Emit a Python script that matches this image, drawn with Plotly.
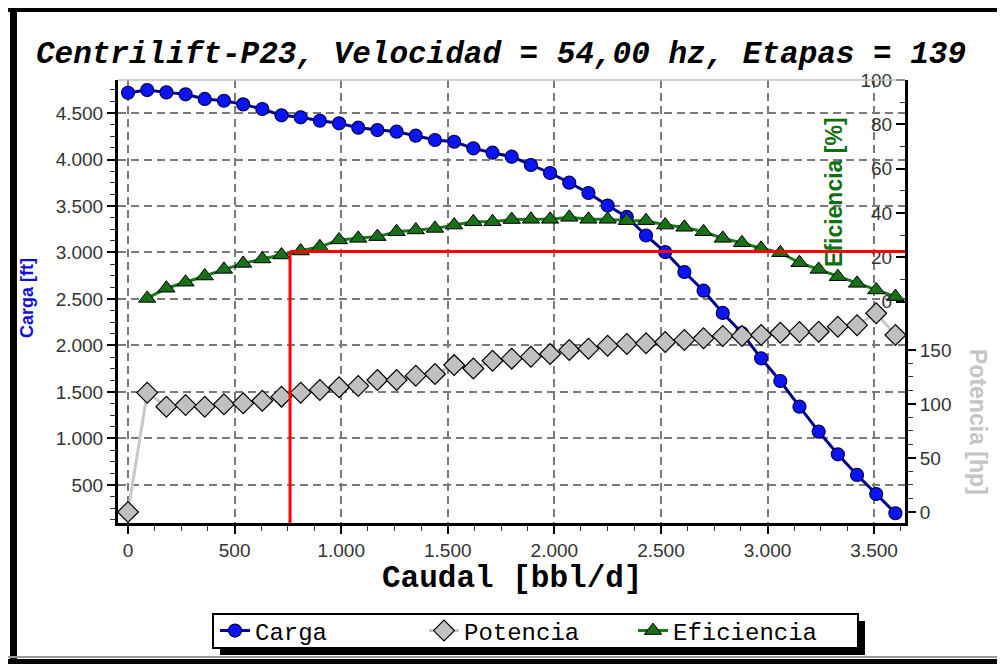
import plotly.graph_objects as go

# ---------------- data ----------------
caudal = [0, 90, 180, 270, 360, 450, 540, 630, 720, 810, 900, 990, 1080, 1170, 1260,
          1350, 1440, 1530, 1620, 1710, 1800, 1890, 1980, 2070, 2160, 2250, 2340, 2430,
          2520, 2610, 2700, 2790, 2880, 2970, 3060, 3150, 3240, 3330, 3420, 3510, 3600]

carga = [4718, 4747, 4722, 4701, 4651, 4632, 4593, 4543, 4475, 4454, 4417, 4389, 4342,
         4317, 4299, 4256, 4210, 4191, 4120, 4073, 4030, 3941, 3855, 3751, 3640, 3505,
         3382, 3183, 3005, 2790, 2589, 2350, 2134, 1862, 1618, 1342, 1073, 830, 608, 403, 196]

potencia = [0, 110.5, 97.5, 99, 97.5, 99.7, 100.6, 103, 106.8, 110.5, 113, 115.5, 116.7,
            122.2, 122.2, 126.2, 127.8, 136, 132.9, 140, 142, 143.8, 146.3, 150, 151.2,
            154, 155.6, 156.2, 157.4, 159.3, 160.8, 163, 163, 163.9, 166, 166.7, 166.9,
            171.6, 173, 184, 163.9]

caudal_ef = caudal[1:]
eficiencia = [1.4, 6.0, 8.7, 11.5, 14.5, 17.2, 19.2, 21.0, 22.8, 24.7, 27.8, 28.5, 29.3,
              31.5, 32.3, 33.0, 34.5, 36.0, 36.0, 37.0, 37.1, 37.1, 38.0, 37.1, 37.1, 36.5,
              36.5, 34.5, 33.5, 31.5, 28.5, 26.5, 24.0, 22.0, 17.5, 14.5, 11.2, 8.2, 5.2, 2.2]

# operating point (red guide lines)
op_caudal = 760
op_carga = 3010

x_ticks = [0, 500, 1000, 1500, 2000, 2500, 3000, 3500]
carga_ticks = [500, 1000, 1500, 2000, 2500, 3000, 3500, 4000, 4500]
ef_ticks = [0, 20, 40, 60, 80, 100]
ef_minor = [10, 30, 50, 70, 90]
pot_ticks = [0, 50, 100, 150]
pot_minor = [12.5, 25, 37.5, 62.5, 75, 87.5, 112.5, 125, 137.5]

X_RANGE = [-47, 3645]
Y_RANGE = [91, 4855]
EF_RANGE = [-100, 100]
POT_RANGE = [-10.2, 400]

# the page body has an 8px margin; figure is sized so it ends at the window edge
W, H = 997, 656
OFF = 8

TICKFONT = dict(family="Liberation Sans", size=19, color="#333333")
GRID = dict(showgrid=True, gridcolor="#7a7a7a", gridwidth=1.5, griddash="8px,5px")


def px_x(p):  # page pixel -> paper x
    return (p - 118) / 787


def px_y(p):  # page pixel -> paper y
    return (523 - p) / 443


fig = go.Figure()

fig.add_trace(go.Scatter(
    x=caudal, y=carga, name="Carga", mode="lines+markers", yaxis="y",
    line=dict(color="#00008c", width=3),
    marker=dict(symbol="circle", size=13, color="#0a14f5", line=dict(color="#000050", width=1.2)),
))
fig.add_trace(go.Scatter(
    x=caudal, y=potencia, name="Potencia", mode="lines+markers", yaxis="y2",
    line=dict(color="#c8c8c8", width=3),
    marker=dict(symbol="diamond", size=16, color="#c0c0c0", line=dict(color="#000000", width=1.2)),
))
fig.add_trace(go.Scatter(
    x=caudal_ef, y=eficiencia, name="Eficiencia", mode="lines+markers", yaxis="y3",
    line=dict(color="#1a7a1a", width=3),
    marker=dict(symbol="triangle-up", size=15, color="#187018", line=dict(color="#000000", width=1)),
))

fig.update_layout(
    width=W, height=H,
    margin=dict(l=118 - OFF, r=100, t=80 - OFF, b=141, autoexpand=False),
    paper_bgcolor="white", plot_bgcolor="white",
    separators=",.",
    showlegend=True,
    title=dict(
        text="Centrilift-P23, Velocidad = 54,00 hz, Etapas = 139",
        font=dict(family="Liberation Mono", size=31, color="#000000", weight="bold", style="italic"),
        x=(501 - OFF) / W, xref="container", xanchor="center",
        y=1 - (52 - OFF) / H, yref="container", yanchor="middle",
    ),
    xaxis=dict(
        range=X_RANGE, tickvals=x_ticks, tickformat=",d", tickfont=TICKFONT,
        showline=True, linecolor="black", linewidth=3,
        ticks="outside", ticklen=8, tickwidth=1.5, tickcolor="black",
        minor=dict(ticks="outside", ticklen=5, tickwidth=1, tickcolor="#333", dtick=125, showgrid=False),
        zeroline=False, automargin=False, **GRID,
    ),
    yaxis=dict(
        range=Y_RANGE, tickvals=carga_ticks, tickformat=",d", tickfont=TICKFONT,
        showline=True, linecolor="black", linewidth=3,
        ticks="outside", ticklen=8, tickwidth=1.5, tickcolor="black",
        minor=dict(ticks="outside", ticklen=5, tickwidth=1, tickcolor="#333", dtick=125, showgrid=False),
        zeroline=False, automargin=False, **GRID,
    ),
    yaxis2=dict(
        overlaying="y", side="right", anchor="x",
        range=POT_RANGE, tickvals=pot_ticks, tickfont=TICKFONT,
        showline=True, linecolor="black", linewidth=3,
        ticks="outside", ticklen=8, tickwidth=1.5, tickcolor="black",
        minor=dict(ticks="outside", ticklen=5, tickwidth=1, tickcolor="#333",
                   tickmode="array", tickvals=pot_minor),
        showgrid=False, zeroline=False, automargin=False,
    ),
    yaxis3=dict(
        overlaying="y", side="left", anchor="free", position=1.0,
        range=EF_RANGE, tickvals=ef_ticks, tickfont=TICKFONT,
        ticks="outside", ticklen=9, tickwidth=1.5, tickcolor="black",
        minor=dict(ticks="outside", ticklen=5, tickwidth=1, tickcolor="#333",
                   tickmode="array", tickvals=ef_minor),
        showline=False, showgrid=False, zeroline=False, automargin=False,
    ),
    legend=dict(
        orientation="h", x=px_x(215), xanchor="left",
        y=px_y(631), yanchor="middle",
        bgcolor="rgba(0,0,0,0)", borderwidth=0,
        font=dict(family="Liberation Mono", size=24, color="#000000"),
        entrywidth=164, entrywidthmode="pixels", itemwidth=30,
    ),
)

# axis titles as annotations
fig.add_annotation(text="<b>Carga [ft]</b>", x=px_x(27), y=px_y(298),
                   xref="paper", yref="paper", textangle=-90, showarrow=False,
                   xanchor="center", yanchor="middle",
                   font=dict(family="Liberation Sans", size=18, color="#1010d8"))
fig.add_annotation(text="<b>Eficiencia [%]</b>", x=px_x(834), y=px_y(192),
                   xref="paper", yref="paper", textangle=-90, showarrow=False,
                   xanchor="center", yanchor="middle",
                   font=dict(family="Liberation Sans", size=23, color="#0f700f"))
fig.add_annotation(text="<b>Potencia [hp]</b>", x=px_x(978), y=px_y(422),
                   xref="paper", yref="paper", textangle=90, showarrow=False,
                   xanchor="center", yanchor="middle",
                   font=dict(family="Liberation Sans", size=23, color="#c4c4c4"))
fig.add_annotation(text="<b>Caudal [bbl/d]</b>", x=0.5, y=px_y(578),
                   xref="paper", yref="paper", showarrow=False,
                   xanchor="center", yanchor="middle",
                   font=dict(family="Liberation Mono", size=31, color="#000000"))

# top border of plot area (light gray)
fig.add_shape(type="line", xref="paper", yref="paper", x0=0, x1=1, y0=1, y1=1,
              line=dict(color="#c0c0c0", width=1.5))

# red operating-point guide lines
fig.add_shape(type="line", xref="x", yref="y", x0=op_caudal, x1=op_caudal,
              y0=Y_RANGE[0], y1=op_carga, line=dict(color="#ff0000", width=3), layer="above")
fig.add_shape(type="line", xref="x", yref="y", x0=op_caudal, x1=X_RANGE[1],
              y0=op_carga, y1=op_carga, line=dict(color="#ff0000", width=3), layer="above")

# window frame
fig.add_shape(type="rect", xref="paper", yref="paper", x0=px_x(0), x1=px_x(1010),
              y0=px_y(12), y1=px_y(0), fillcolor="black", line_width=0, layer="below")
fig.add_shape(type="rect", xref="paper", yref="paper", x0=px_x(10), x1=px_x(17),
              y0=px_y(670), y1=px_y(0), fillcolor="black", line_width=0, layer="below")
fig.add_shape(type="rect", xref="paper", yref="paper", x0=px_x(0), x1=px_x(1010),
              y0=px_y(658), y1=px_y(656), fillcolor="#9a9a9a", line_width=0, layer="below")
fig.add_shape(type="rect", xref="paper", yref="paper", x0=px_x(0), x1=px_x(1010),
              y0=px_y(670), y1=px_y(659), fillcolor="black", line_width=0, layer="below")
# legend shadow and box
fig.add_shape(type="rect", xref="paper", yref="paper", x0=px_x(220), x1=px_x(865),
              y0=px_y(655), y1=px_y(621), fillcolor="black", line_width=0, layer="below")
fig.add_shape(type="rect", xref="paper", yref="paper", x0=px_x(213), x1=px_x(858),
              y0=px_y(648), y1=px_y(614), fillcolor="white",
              line=dict(color="black", width=2), layer="below")

fig.write_html("out.html")
